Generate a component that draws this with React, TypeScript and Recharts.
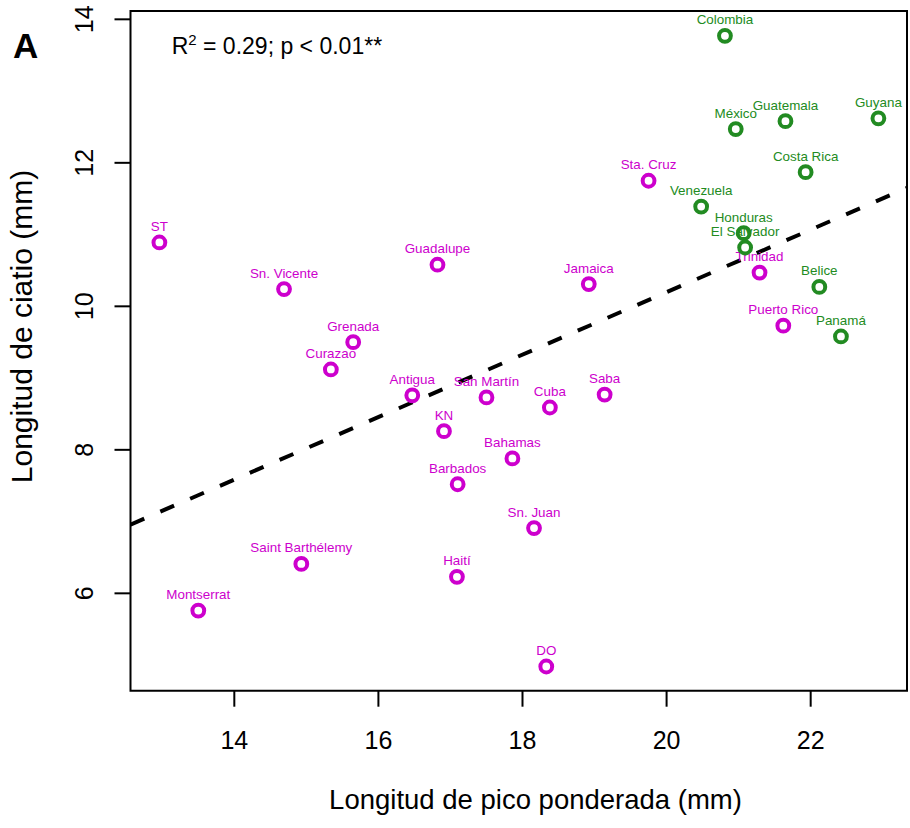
import { ScatterChart, Scatter, XAxis, YAxis, ReferenceLine, ReferenceArea } from 'recharts';

// Caribbean islands (magenta)
const ISLAND_NAMES = [
  'ST', 'Sn. Vicente', 'Guadalupe', 'Grenada', 'Curazao', 'Antigua', 'KN',
  'San Martín', 'Cuba', 'Saba', 'Bahamas', 'Barbados', 'Sn. Juan', 'Haití',
  'Saint Barthélemy', 'Montserrat', 'DO', 'Jamaica', 'Sta. Cruz', 'Trinidad',
  'Puerto Rico',
];
const ISLAND_BEAK = [
  12.96, 14.69, 16.82, 15.65, 15.34, 16.47, 16.91,
  17.5, 18.38, 19.14, 17.86, 17.1, 18.16, 17.09,
  14.93, 13.5, 18.33, 18.92, 19.75, 21.29,
  21.62,
];
const ISLAND_CYATHIUM = [
  10.89, 10.24, 10.58, 9.5, 9.12, 8.76, 8.26,
  8.73, 8.59, 8.77, 7.88, 7.52, 6.91, 6.23,
  6.41, 5.76, 4.98, 10.31, 11.75, 10.47,
  9.73,
];

// Mainland (green)
const MAINLAND_NAMES = [
  'Colombia', 'México', 'Guatemala', 'Guyana', 'Costa Rica',
  'Venezuela', 'Honduras', 'El Salvador', 'Belice', 'Panamá',
];
const MAINLAND_BEAK = [20.81, 20.96, 21.65, 22.94, 21.93, 20.48, 21.07, 21.09, 22.12, 22.42];
const MAINLAND_CYATHIUM = [13.77, 12.47, 12.58, 12.62, 11.87, 11.39, 11.02, 10.82, 10.27, 9.58];

const X_TICKS = [14, 16, 18, 20, 22];
const Y_TICKS = [6, 8, 10, 12, 14];
const X_DOMAIN: [number, number] = [12.559, 23.337];
const Y_DOMAIN: [number, number] = [4.643, 14.116];

const MAGENTA = '#CD00CD';
const GREEN = '#228B22';
const FONT = '"Liberation Sans", Arial, Helvetica, sans-serif';

type Pt = { name: string; x: number; y: number };

const toPoints = (names: string[], xs: number[], ys: number[]): Pt[] =>
  names.map((name, i) => ({ name, x: xs[i], y: ys[i] }));

const islands = toPoints(ISLAND_NAMES, ISLAND_BEAK, ISLAND_CYATHIUM);
const mainland = toPoints(MAINLAND_NAMES, MAINLAND_BEAK, MAINLAND_CYATHIUM);

// least-squares fit over all points
function linearFit(pts: Pt[]) {
  const n = pts.length;
  const mx = pts.reduce((s, p) => s + p.x, 0) / n;
  const my = pts.reduce((s, p) => s + p.y, 0) / n;
  let sxy = 0;
  let sxx = 0;
  pts.forEach((p) => {
    sxy += (p.x - mx) * (p.y - my);
    sxx += (p.x - mx) ** 2;
  });
  const slope = sxy / sxx;
  return { slope, intercept: my - slope * mx };
}

const fit = linearFit([...islands, ...mainland]);
const fitAt = (x: number) => fit.intercept + fit.slope * x;

function Ring({ cx, cy, color }: any) {
  return <circle cx={cx} cy={cy} r={5.9} fill="none" stroke={color} strokeWidth={4} />;
}

function PointLabel({ cx, cy, payload, color }: any) {
  return (
    <text x={cx} y={cy - 11.5} textAnchor="middle" fontSize={13.4} fontFamily={FONT} fill={color}>
      {payload.name}
    </text>
  );
}

function XTick({ x, y, payload }: any) {
  return (
    <text x={x} y={y} dy={18} textAnchor="middle" fontSize={25} fontFamily={FONT} fill="#000">
      {payload.value}
    </text>
  );
}

function YTick({ x, y, payload }: any) {
  return (
    <text x={x} y={y} transform={`rotate(-90, ${x}, ${y})`} textAnchor="middle" fontSize={25} fontFamily={FONT} fill="#000">
      {payload.value}
    </text>
  );
}

export default function App() {
  return (
    <div style={{ position: 'absolute', left: 0, top: 0, width: 910, height: 828, background: '#fff' }}>
      <ScatterChart width={910} height={828} margin={{ top: 11, right: 3, bottom: 0, left: 0 }}>
        <XAxis
          type="number"
          dataKey="x"
          domain={X_DOMAIN}
          ticks={X_TICKS}
          allowDataOverflow
          height={137.3}
          tickSize={16}
          tickMargin={24.6}
          tick={(p: any) => <XTick {...p} />}
          tickLine={{ stroke: '#000', strokeWidth: 2 }}
          axisLine={false}
        />
        <YAxis
          type="number"
          dataKey="y"
          domain={Y_DOMAIN}
          ticks={Y_TICKS}
          allowDataOverflow
          width={130.5}
          tickSize={16}
          tickMargin={21.5}
          tick={(p: any) => <YTick {...p} />}
          tickLine={{ stroke: '#000', strokeWidth: 2 }}
          axisLine={false}
        />
        <ReferenceArea
          x1={X_DOMAIN[0]}
          x2={X_DOMAIN[1]}
          y1={Y_DOMAIN[0]}
          y2={Y_DOMAIN[1]}
          fill="none"
          stroke="#000"
          strokeWidth={2}
          ifOverflow="visible"
        />
        <Scatter data={islands} isAnimationActive={false} shape={(p: any) => <PointLabel {...p} color={MAGENTA} />} />
        <Scatter data={mainland} isAnimationActive={false} shape={(p: any) => <PointLabel {...p} color={GREEN} />} />
        <Scatter data={islands} isAnimationActive={false} shape={(p: any) => <Ring {...p} color={MAGENTA} />} />
        <Scatter data={mainland} isAnimationActive={false} shape={(p: any) => <Ring {...p} color={GREEN} />} />
        <ReferenceLine
          segment={[
            { x: X_DOMAIN[0], y: fitAt(X_DOMAIN[0]) },
            { x: X_DOMAIN[1], y: fitAt(X_DOMAIN[1]) },
          ]}
          stroke="#000"
          strokeWidth={4}
          strokeDasharray="15 17.5"
          ifOverflow="hidden"
        />
      </ScatterChart>
      <svg width={910} height={828} style={{ position: 'absolute', left: 0, top: 0, pointerEvents: 'none' }}>
        <text x={13} y={58} fontSize={35} fontWeight="bold" fontFamily={FONT} fill="#000">A</text>
        <text x={171.7} y={54} fontSize={23} fontFamily={FONT} fill="#000">
          R<tspan dy={-9} fontSize={15}>2</tspan>
          <tspan dy={9}> = 0.29; p &lt; 0.01**</tspan>
        </text>
        <text x={535.5} y={809} textAnchor="middle" fontSize={27.5} fontFamily={FONT} fill="#000">
          Longitud de pico ponderada (mm)
        </text>
        <text x={32} y={326.5} transform="rotate(-90, 32, 326.5)" textAnchor="middle" fontSize={30} fontFamily={FONT} fill="#000">
          Longitud de ciatio (mm)
        </text>
      </svg>
    </div>
  );
}
